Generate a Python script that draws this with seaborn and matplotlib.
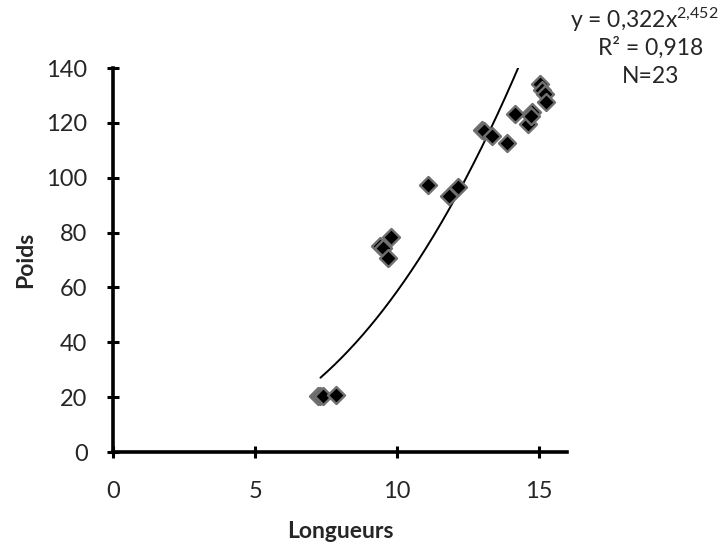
import numpy as np
import pandas as pd
import matplotlib
matplotlib.use("Agg")
import matplotlib.pyplot as plt
import seaborn as sns

# Data
longueurs = [7.22, 7.30, 7.39, 7.85, 9.40, 9.50, 9.68, 9.79, 11.09, 11.83, 12.15,
             12.99, 13.05, 13.34, 13.87, 14.15, 14.60, 14.75, 14.70, 15.04, 15.10, 15.20, 15.25]
poids = [20.5, 20.5, 20.5, 20.8, 75.1, 74.5, 70.7, 78.4, 97.3, 93.3, 96.6,
         117.4, 117.0, 115.2, 112.5, 123.3, 119.5, 123.8, 122.5, 134.0, 132.0, 130.5, 127.5]

# Trend line (power) as drawn
A_FIT = 0.207
B_FIT = 2.452
X_FIT_MIN, X_FIT_MAX = 7.3, 14.3

x_ticks = [0, 5, 10, 15]
y_ticks = [0, 20, 40, 60, 80, 100, 120, 140]

sns.set_style("white")
plt.rcParams['font.family'] = ['Lato', 'DejaVu Sans']
plt.rcParams['mathtext.fontset'] = 'custom'
plt.rcParams['mathtext.rm'] = 'Lato'
plt.rcParams['mathtext.it'] = 'Lato'

df = pd.DataFrame({"Longueurs": longueurs, "Poids": poids})

fig = plt.figure(figsize=(7.21, 5.42), dpi=100)
ax = fig.add_axes([0.157, 0.166, 0.63, 0.7085])

xs = np.linspace(X_FIT_MIN, X_FIT_MAX, 200)
ys = A_FIT * xs ** B_FIT
ax.plot(xs, ys, color="black", lw=1.4, zorder=2)

sns.scatterplot(data=df, x="Longueurs", y="Poids", ax=ax, marker="D", s=75,
                color="black", edgecolor="#707070", linewidth=1.7, zorder=3)

ax.set_xlim(0, 16)
ax.set_ylim(0, 140)
ax.set_xticks(x_ticks)
ax.set_yticks(y_ticks)
ax.tick_params(axis="both", bottom=True, left=True, direction="inout", length=9, width=2.2,
               labelsize=17, color="black")
ax.tick_params(axis="x", pad=16)
ax.tick_params(axis="y", pad=14)
for s in ["top", "right"]:
    ax.spines[s].set_visible(False)
for s in ["left", "bottom"]:
    ax.spines[s].set_linewidth(2.6)
    ax.spines[s].set_color("black")

ax.set_xlabel("Longueurs", fontsize=16.5, fontweight="bold", labelpad=14)
ax.set_ylabel("Poids", fontsize=16.5, fontweight="bold", labelpad=7)

fig.text(0.997, 0.964, r"y = 0,322x$^{2{,}452}$", ha="right", va="center", fontsize=16.5)
fig.text(0.902, 0.911, "R² = 0,918", ha="center", va="center", fontsize=16.5)
fig.text(0.902, 0.858, "N=23", ha="center", va="center", fontsize=16.5)

fig.savefig("out.png", dpi=100)
